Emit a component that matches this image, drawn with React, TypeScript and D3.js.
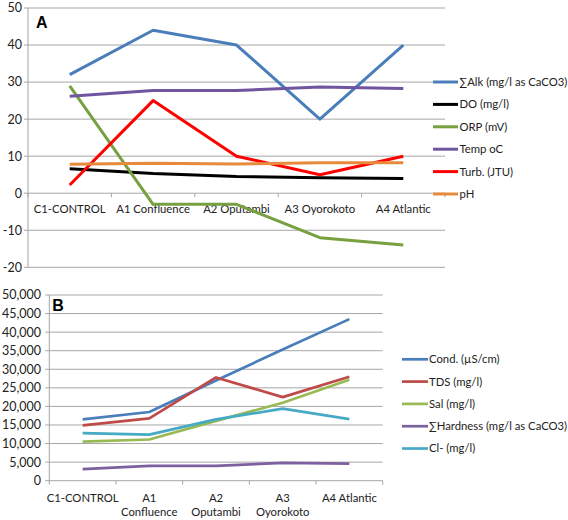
import React from "react";
import * as d3 from "d3";

const categoriesA = ["C1-CONTROL", "A1 Confluence", "A2 Oputambi", "A3 Oyorokoto", "A4 Atlantic"];
const categoriesB = [["C1-CONTROL"], ["A1", "Confluence"], ["A2", "Oputambi"], ["A3", "Oyorokoto"], ["A4 Atlantic"]];

const alk = [32, 44, 40, 20, 40];
const dO = [6.6, 5.3, 4.5, 4.2, 4.0];
const orp = [29, -3, -3, -12, -14];
const temp = [26.2, 27.7, 27.7, 28.7, 28.3];
const turb = [2.2, 25, 10, 5, 10];
const ph = [7.8, 8.1, 7.9, 8.2, 8.2];

const cond = [16500, 18500, 27000, 35300, 43500];
const tds = [14900, 16800, 27800, 22500, 28000];
const sal = [10500, 11100, 16100, 21000, 27200];
const hardness = [3100, 4000, 4000, 4800, 4600];
const cl = [12800, 12400, 16500, 19400, 16600];

const ticksA = [-20, -10, 0, 10, 20, 30, 40, 50];
const ticksB = [0, 5000, 10000, 15000, 20000, 25000, 30000, 35000, 40000, 45000, 50000];

const seriesA = [
  { name: "∑Alk (mg/l as CaCO3)", values: alk, color: "#4a7ebb" },
  { name: "DO (mg/l)", values: dO, color: "#000000" },
  { name: "ORP (mV)", values: orp, color: "#77a040" },
  { name: "Temp oC", values: temp, color: "#7055a0" },
  { name: "Turb. (JTU)", values: turb, color: "#ff0000" },
  { name: "pH", values: ph, color: "#e88a3c" },
];

const seriesB = [
  { name: "Cond. (µS/cm)", values: cond, color: "#4a7ebb" },
  { name: "TDS (mg/l)", values: tds, color: "#be4b48" },
  { name: "Sal (mg/l)", values: sal, color: "#98b954" },
  { name: "∑Hardness (mg/l as CaCO3)", values: hardness, color: "#7d60a0" },
  { name: "Cl- (mg/l)", values: cl, color: "#46aac5" },
];

const FONT = "Lato, 'Open Sans', sans-serif";
const GRID = "#a6a6a6";
const TEXT = "#222";
const FS = 11.3;
const FSN = 12.5;

export default function App() {
  // Panel A
  const axL = 28, axR = 445;
  const xA = d3.scalePoint<number>().domain(d3.range(5)).range([axL, axR]).padding(0.5);
  const yA = d3.scaleLinear().domain([-20, 50]).range([267.3, 8]);
  const bandA = (axR - axL) / 5;
  const lineA = d3.line<number>().x((_, i) => xA(i)!).y((v) => yA(v));

  // Panel B
  const bxL = 49.3, bxR = 382.7;
  const xB = d3.scalePoint<number>().domain(d3.range(5)).range([bxL, bxR]).padding(0.5);
  const yB = d3.scaleLinear().domain([0, 50000]).range([480.7, 295]);
  const bandB = (bxR - bxL) / 5;
  const lineB = d3.line<number>().x((_, i) => xB(i)!).y((v) => yB(v));
  const fmt = d3.format(",");

  return (
    <svg width={568} height={520} style={{ position: "absolute", left: 0, top: 0, background: "#fff" }} fontFamily={FONT}>
      <rect x={0} y={0} width={568} height={520} fill="#fff" />
      {/* Panel A */}
      <g>
        {ticksA.map((t) => (
          <g key={t}>
            <line x1={axL - 4} x2={axR} y1={yA(t)} y2={yA(t)} stroke={GRID} strokeWidth={1} />
            <text x={22} y={yA(t)} dy="0.35em" textAnchor="end" fontSize={FSN} fill={TEXT}>{t}</text>
          </g>
        ))}
        <line x1={axL} x2={axL} y1={yA(50)} y2={yA(-20)} stroke={GRID} strokeWidth={1} />
        {d3.range(6).map((i) => (
          <line key={i} x1={axL + i * bandA} x2={axL + i * bandA} y1={yA(0)} y2={yA(0) + 4} stroke={GRID} />
        ))}
        {categoriesA.map((c, i) => (
          <text key={c} x={xA(i)!} y={yA(0) + 16} dy="0.35em" textAnchor="middle" fontSize={FS} fill={TEXT}>{c}</text>
        ))}
        <text x={36} y={22} dy="0.35em" fontSize={16} fontWeight="bold" fontFamily="Arial, 'Liberation Sans', sans-serif" fill="#000">A</text>
        {seriesA.map((s) => (
          <path key={s.name} d={lineA(s.values)!} fill="none" stroke={s.color} strokeWidth={3} strokeLinejoin="round" />
        ))}
        {seriesA.map((s, i) => {
          const y = 82 + i * 22.4;
          return (
            <g key={s.name}>
              <line x1={433} x2={458} y1={y} y2={y} stroke={s.color} strokeWidth={3} />
              <text x={459.5} y={y} dy="0.35em" fontSize={FS} fill={TEXT}>{s.name}</text>
            </g>
          );
        })}
      </g>
      {/* Panel B */}
      <g>
        {ticksB.map((t) => (
          <g key={t}>
            <line x1={bxL - 4} x2={bxR} y1={yB(t)} y2={yB(t)} stroke={GRID} strokeWidth={1} />
            <text x={41} y={yB(t)} dy="0.35em" textAnchor="end" fontSize={FSN} fill={TEXT}>{fmt(t)}</text>
          </g>
        ))}
        <line x1={bxL} x2={bxL} y1={yB(50000)} y2={yB(0)} stroke={GRID} strokeWidth={1} />
        {d3.range(6).map((i) => (
          <line key={i} x1={bxL + i * bandB} x2={bxL + i * bandB} y1={yB(0)} y2={yB(0) + 4} stroke={GRID} />
        ))}
        {categoriesB.map((c, i) => (
          <text key={i} x={xB(i)!} y={yB(0) + 17} textAnchor="middle" fontSize={FS} fill={TEXT}>
            {c.map((ln, j) => (
              <tspan key={j} x={xB(i)!} dy={j === 0 ? "0.35em" : 14.6}>{ln}</tspan>
            ))}
          </text>
        ))}
        <text x={58} y={305} dy="0.35em" textAnchor="middle" fontSize={16} fontWeight="bold" fontFamily="Arial, 'Liberation Sans', sans-serif" fill="#000">B</text>
        {seriesB.map((s) => (
          <path key={s.name} d={lineB(s.values)!} fill="none" stroke={s.color} strokeWidth={2.7} strokeLinejoin="round" />
        ))}
        {seriesB.map((s, i) => {
          const y = 359.3 + i * 22.3;
          return (
            <g key={s.name}>
              <line x1={402} x2={428} y1={y} y2={y} stroke={s.color} strokeWidth={2.7} />
              <text x={429} y={y} dy="0.35em" fontSize={FS} fill={TEXT}>{s.name}</text>
            </g>
          );
        })}
      </g>
    </svg>
  );
}
